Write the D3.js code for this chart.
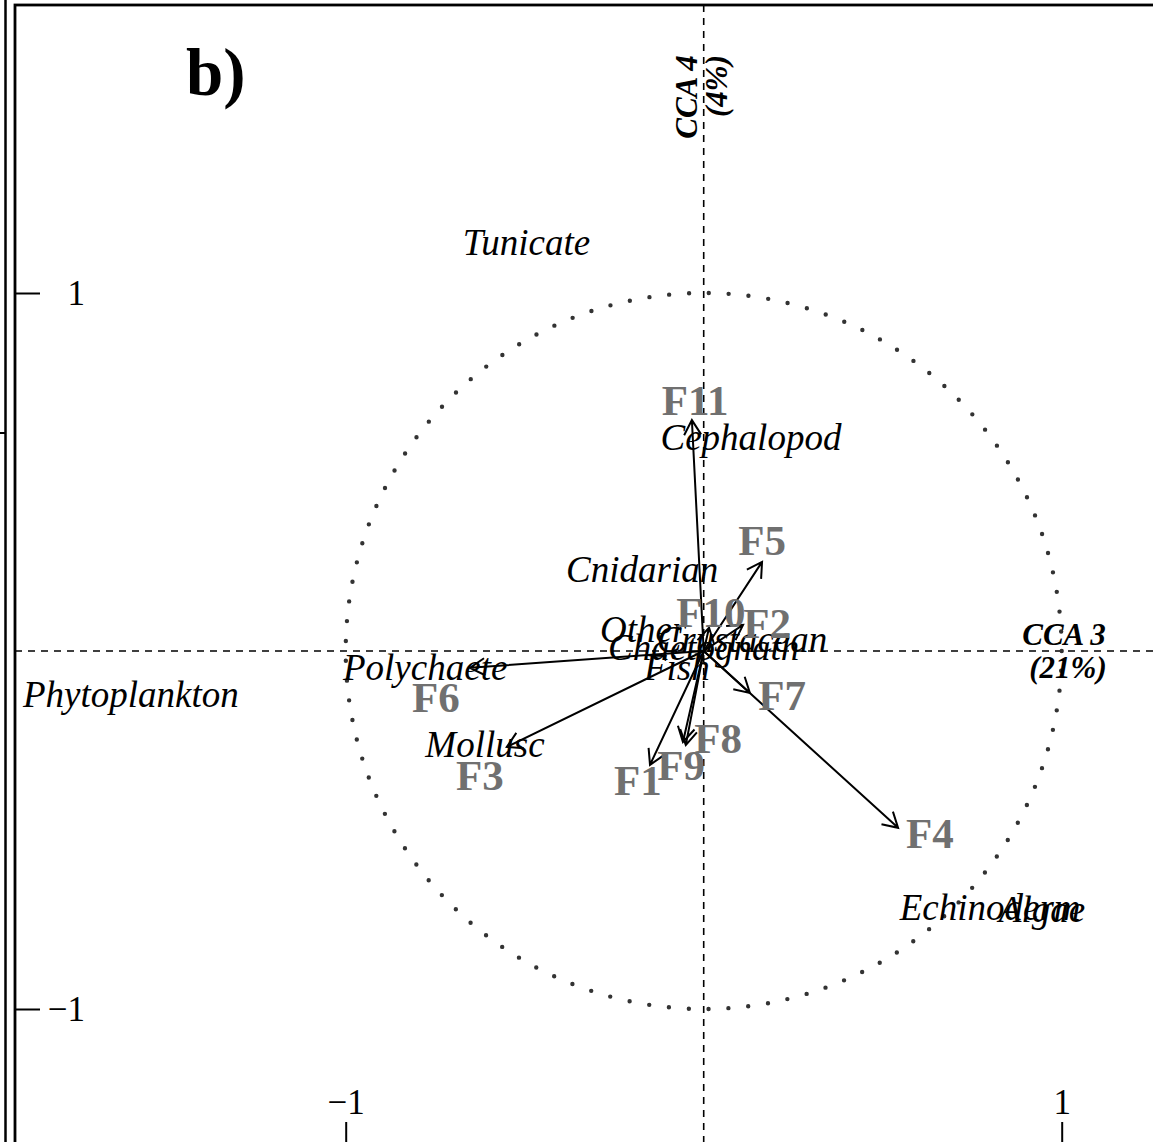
<!DOCTYPE html>
<html>
<head>
<meta charset="utf-8">
<script src="https://cdn.jsdelivr.net/npm/d3@7"></script>
<style>
  body { margin: 0; background: #fff; }
  svg { display: block; font-family: "Liberation Serif", "Times New Roman", serif; }
</style>
</head>
<body>
<svg id="cca" width="1153" height="1142"></svg>
<script>
// sites (arrows) : tip of the arrow and where the label sits, in CCA units
const sites = ["F1", "F2", "F3", "F4", "F5", "F6", "F7", "F8", "F9", "F10", "F11"];
const arrowX = [-0.150, 0.110, -0.550, 0.543, 0.163, -0.653, 0.129, -0.050, -0.058, 0.015, -0.033];
const arrowY = [-0.318, 0.073, -0.268, -0.494, 0.249, -0.047, -0.117, -0.263, -0.254, 0.065, 0.645];
const siteLabX = [-0.184, 0.177, -0.625, 0.632, 0.163, -0.748, 0.219, 0.040, -0.063, 0.020, -0.024];
const siteLabY = [-0.360, 0.078, -0.346, -0.508, 0.310, -0.128, -0.123, -0.243, -0.318, 0.109, 0.701];

// prey species scores
const species = ["Tunicate", "Cephalopod", "Cnidarian", "Other", "Crustacean", "Chaetognath",
                 "Fish", "Polychaete", "Phytoplankton", "Mollusc", "Echinoderm", "Algae"];
const specX = [-0.495, 0.132, -0.172, -0.169, 0.107, 0.000, -0.075, -0.778, -1.600, -0.611, 0.800, 0.945];
const specY = [1.140, 0.595, 0.226, 0.059, 0.031, 0.008, -0.047, -0.047, -0.123, -0.263, -0.718, -0.723];

const xTicks = [-1, 1];
const yTicks = [-1, 1];
const xAxisLabel = ["CCA 3", "(21%)"];
const yAxisLabel = ["CCA 4", "(4%)"];
const panelTag = "b)";

var svg = d3.select("#cca"),
    width = +svg.attr("width"),
    height = +svg.attr("height");

const frame = {left: 15, top: 5, bottom: 1147};

var x = d3.scaleLinear().domain([-1, 1]).range([345.7, 1061.7]);
var y = d3.scaleLinear().domain([-1, 1]).range([1009, 293]);

// bits of the neighbouring panel
svg.append("line").attr("x1", 5.5).attr("x2", 5.5).attr("y1", 0).attr("y2", height)
    .attr("stroke", "#000").attr("stroke-width", 2.5);
svg.append("line").attr("x1", 0).attr("x2", 5.5).attr("y1", 433).attr("y2", 433)
    .attr("stroke", "#000").attr("stroke-width", 2);

// zero lines
svg.append("line")
    .attr("x1", frame.left).attr("x2", width)
    .attr("y1", y(0)).attr("y2", y(0))
    .attr("stroke", "#000").attr("stroke-width", 1.6).attr("stroke-dasharray", "7,6");
svg.append("line")
    .attr("x1", x(0)).attr("x2", x(0))
    .attr("y1", frame.top).attr("y2", height)
    .attr("stroke", "#000").attr("stroke-width", 1.6).attr("stroke-dasharray", "7,6");

// unit circle, dotted
svg.append("circle")
    .attr("cx", x(0)).attr("cy", y(0))
    .attr("r", x(1) - x(0))
    .attr("fill", "none").attr("stroke", "#333")
    .attr("stroke-width", 4.4).attr("stroke-linecap", "round")
    .attr("stroke-dasharray", "0,19.9");

// frame
svg.append("rect")
    .attr("x", frame.left).attr("y", frame.top)
    .attr("width", width + 20).attr("height", frame.bottom - frame.top)
    .attr("fill", "none").attr("stroke", "#000").attr("stroke-width", 2.8);

// axes, ticks pointing inward, labels inside
var yAx = svg.append("g")
    .attr("transform", "translate(" + frame.left + ",0)")
    .call(d3.axisLeft(y).tickValues(yTicks).tickFormat(d3.format("d"))
        .tickSize(-25).tickSizeOuter(0).tickPadding(-70));
yAx.select(".domain").remove();
yAx.selectAll("line").attr("stroke-width", 2);
yAx.selectAll("text").attr("font-size", 35).attr("font-family", "Liberation Serif");

var xAx = svg.append("g")
    .attr("transform", "translate(0," + frame.bottom + ")")
    .call(d3.axisBottom(x).tickValues(xTicks).tickFormat(d3.format("d"))
        .tickSize(-25).tickSizeOuter(0));
xAx.select(".domain").remove();
xAx.selectAll("line").attr("stroke-width", 2);
xAx.selectAll("text")
    .attr("y", -44).attr("dy", "0.32em")
    .attr("font-size", 35).attr("font-family", "Liberation Serif");

// species names
svg.append("g").selectAll("text")
    .data(species)
    .enter().append("text")
    .attr("x", (d, i) => x(specX[i]))
    .attr("y", (d, i) => y(specY[i]))
    .attr("dy", "0.32em")
    .attr("text-anchor", "middle")
    .attr("font-size", 37)
    .attr("font-style", "italic")
    .text(d => d);

// site arrows
const headLen = 17, headAng = Math.PI / 6;
var arrows = svg.append("g")
    .attr("stroke", "#000").attr("stroke-width", 2).attr("fill", "none");
arrows.selectAll("path")
    .data(sites)
    .enter().append("path")
    .attr("d", (d, i) => {
        let x0 = x(0), y0 = y(0), x1 = x(arrowX[i]), y1 = y(arrowY[i]);
        let a = Math.atan2(y1 - y0, x1 - x0);
        let p = d3.path();
        p.moveTo(x0, y0); p.lineTo(x1, y1);
        p.moveTo(x1 - headLen * Math.cos(a - headAng), y1 - headLen * Math.sin(a - headAng));
        p.lineTo(x1, y1);
        p.lineTo(x1 - headLen * Math.cos(a + headAng), y1 - headLen * Math.sin(a + headAng));
        return p.toString();
    });

// site labels
svg.append("g").selectAll("text")
    .data(sites)
    .enter().append("text")
    .attr("x", (d, i) => x(siteLabX[i]))
    .attr("y", (d, i) => y(siteLabY[i]))
    .attr("dy", "0.35em")
    .attr("text-anchor", "middle")
    .attr("font-size", 43)
    .attr("font-weight", "bold")
    .attr("fill", "#707070")
    .text(d => d);

// axis titles
svg.append("text")
    .attr("font-size", 31).attr("font-weight", "bold").attr("font-style", "italic")
    .attr("text-anchor", "middle")
    .selectAll("tspan")
    .data(xAxisLabel)
    .enter().append("tspan")
    .attr("x", (d, i) => i ? 1068 : 1064)
    .attr("y", (d, i) => 645 + i * 33)
    .text(d => d);

svg.append("text")
    .attr("transform", "translate(697,0) rotate(-90)")
    .attr("font-size", 31).attr("font-weight", "bold").attr("font-style", "italic")
    .attr("text-anchor", "middle")
    .selectAll("tspan")
    .data(yAxisLabel)
    .enter().append("tspan")
    .attr("x", (d, i) => i ? -86 : -97)
    .attr("y", (d, i) => i * 30)
    .text(d => d);

// panel tag
svg.append("text")
    .attr("x", 186).attr("y", 95)
    .attr("font-size", 67).attr("font-weight", "bold")
    .text(panelTag);
</script>
</body>
</html>
